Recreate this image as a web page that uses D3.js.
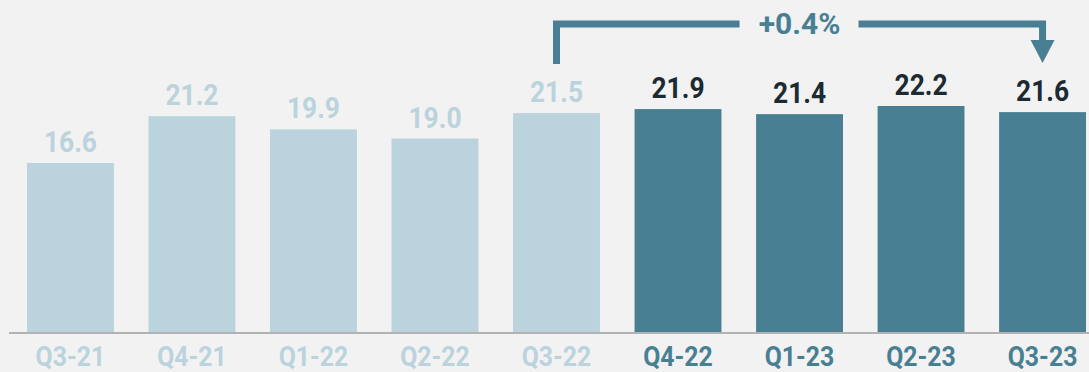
<!DOCTYPE html>
<html>
<head>
<meta charset="utf-8">
<script src="https://cdn.jsdelivr.net/npm/d3@7"></script>
<style>
  html, body { margin: 0; padding: 0; background: #f2f2f2; }
  svg { display: block; }
  text { font-family: Roboto, "DejaVu Sans", sans-serif; font-weight: bold; }
</style>
</head>
<body>
<svg id="chart" width="1089" height="372"></svg>
<script>
// chart data
var quarters = ["Q3-21", "Q4-21", "Q1-22", "Q2-22", "Q3-22", "Q4-22", "Q1-23", "Q2-23", "Q3-23"];
var values = [16.6, 21.2, 19.9, 19.0, 21.5, 21.9, 21.4, 22.2, 21.6];
var highlighted = [false, false, false, false, false, true, true, true, true];
var changeLabel = "+0.4%";
var changeFrom = "Q3-22";
var changeTo = "Q3-23";

var LIGHT = "#bad3dc";
var DARK = "#487f93";
var INK = "#1c2a32";

var svg = d3.select("#chart");

var x = d3.scaleBand()
    .domain(quarters)
    .range([27, 1086])
    .paddingInner(0.285)
    .paddingOuter(0);

var y = d3.scaleLinear()
    .domain([0, 25])
    .range([332, 77.5]);

var rows = quarters.map(function(q, i) {
    return { q: q, v: values[i], hi: highlighted[i] };
});

// bars
svg.append("g").selectAll("rect")
    .data(rows)
    .join("rect")
    .attr("x", function(d) { return x(d.q); })
    .attr("y", function(d) { return y(d.v); })
    .attr("width", x.bandwidth())
    .attr("height", function(d) { return y(0) - y(d.v); })
    .attr("fill", function(d) { return d.hi ? DARK : LIGHT; });

// value labels (font is squeezed a little to look like the condensed original)
svg.append("g").selectAll("text")
    .data(rows)
    .join("text")
    .attr("transform", function(d) {
        return "translate(" + (x(d.q) + x.bandwidth() / 2) + "," + (y(d.v) - 11) + ") scale(0.88,1)";
    })
    .attr("text-anchor", "middle")
    .attr("font-size", 30)
    .attr("fill", function(d) { return d.hi ? INK : LIGHT; })
    .text(function(d) { return d3.format(".1f")(d.v); });

// baseline
svg.append("line")
    .attr("x1", 9).attr("x2", 1089)
    .attr("y1", y(0) + 1).attr("y2", y(0) + 1)
    .attr("stroke", "#b3b3b3")
    .attr("stroke-width", 2);

// category axis, no line or ticks
var xAxis = svg.append("g")
    .attr("transform", "translate(0," + y(0) + ")")
    .call(d3.axisBottom(x).tickSize(0).tickPadding(0));
xAxis.select(".domain").remove();
xAxis.selectAll("text")
    .attr("y", 34.5)
    .attr("dy", 0)
    .attr("transform", "scale(0.92,1)")
    .attr("font-size", 27)
    .attr("font-family", null)
    .attr("fill", function(d, i) { return highlighted[i] ? DARK : LIGHT; });

// change bracket
var xa = x(changeFrom) + x.bandwidth() / 2;
var xb = x(changeTo) + x.bandwidth() / 2;
var xm = (xa + xb) / 2;
var topY = 24;
var g = svg.append("g");

g.append("path")
    .attr("d", "M" + xa + ",64 V" + topY + " H" + (xm - 60))
    .attr("fill", "none")
    .attr("stroke", DARK)
    .attr("stroke-width", 7);

g.append("path")
    .attr("d", "M" + (xm + 59) + "," + topY + " H" + xb + " V42")
    .attr("fill", "none")
    .attr("stroke", DARK)
    .attr("stroke-width", 7);

g.append("path")
    .attr("d", "M" + (xb - 12) + ",40 L" + (xb + 12) + ",40 L" + xb + ",63 Z")
    .attr("fill", DARK);

g.append("text")
    .attr("x", xm)
    .attr("y", 34)
    .attr("text-anchor", "middle")
    .attr("font-size", 30)
    .attr("fill", DARK)
    .text(changeLabel);
</script>
</body>
</html>
